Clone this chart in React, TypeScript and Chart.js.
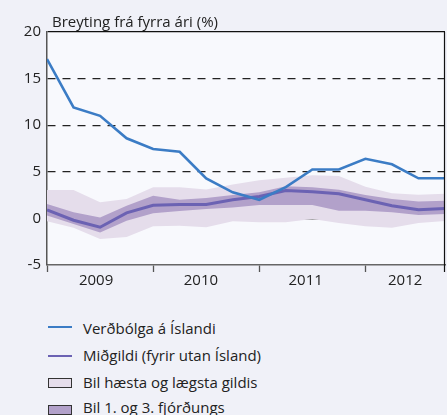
import React, { useEffect, useRef } from "react";
import { Chart, registerables } from "chart.js";

Chart.register(...registerables);

// Quarterly observations, 2009 Q1 .. 2012 Q4
const quarters = [
  "2009Q1", "2009Q2", "2009Q3", "2009Q4",
  "2010Q1", "2010Q2", "2010Q3", "2010Q4",
  "2011Q1", "2011Q2", "2011Q3", "2011Q4",
  "2012Q1", "2012Q2", "2012Q3", "2012Q4",
];
const iceland = [17.1, 11.9, 11.0, 8.6, 7.45, 7.15, 4.3, 2.8, 2.0, 3.35, 5.25, 5.25, 6.4, 5.8, 4.3, 4.3];
const median = [0.9, -0.2, -0.95, 0.6, 1.4, 1.5, 1.5, 2.0, 2.35, 3.0, 2.87, 2.65, 2.0, 1.36, 0.92, 1.06];
const q3 = [1.55, 0.65, 0.1, 1.36, 2.44, 2.0, 2.2, 2.5, 2.8, 3.44, 3.33, 3.08, 2.5, 2.08, 1.8, 1.9];
const q1 = [0.3, -0.6, -1.5, -0.25, 0.54, 0.8, 1.0, 1.18, 1.44, 1.44, 1.44, 0.83, 0.83, 0.65, 0.36, 0.47];
const maxVals = [3.05, 3.05, 1.72, 2.08, 3.33, 3.35, 3.1, 3.65, 4.1, 4.35, 4.62, 4.55, 3.4, 2.7, 2.55, 2.65];
const minVals = [-0.3, -1.0, -2.2, -2.0, -0.85, -0.8, -0.96, -0.3, -0.4, -0.4, -0.07, -0.5, -0.85, -1.0, -0.5, -0.28];

const yearLabels = ["2009", "2010", "2011", "2012"];
const yearBoundaries = [0, 4, 8, 12, 15];
const yTicks = [-5, 0, 5, 10, 15, 20];

const titleText = "Breyting frá fyrra ári (%)";
const legendLabels = [
  "Verðbólga á Íslandi",
  "Miðgildi (fyrir utan Ísland)",
  "Bil hæsta og lægsta gildis",
  "Bil 1. og 3. fjórðungs",
];

// layout / style
const yearLabelPos = [1.85, 5.8, 9.75, 13.5];
const FONT = '"Open Sans", "DejaVu Sans", sans-serif';
const C_BG = "#f0f1f8";
const C_PLOT = "#f8f9fd";
const C_BLUE = "#3b7cc5";
const C_MED = "#6b62b3";
const C_INNER = "#b2a1ca";
const C_OUTER = "#e5ddeb";

const pts = (arr: number[]) => arr.map((v, i) => ({ x: i, y: v }));

export default function App() {
  const ref = useRef<HTMLCanvasElement | null>(null);

  useEffect(() => {
    if (!ref.current) return;
    const plotBg = {
      id: "plotBg",
      beforeDraw(chart: any) {
        const { ctx, chartArea } = chart;
        ctx.save();
        ctx.fillStyle = C_PLOT;
        ctx.fillRect(chartArea.left, chartArea.top, chartArea.right - chartArea.left, chartArea.bottom - chartArea.top);
        ctx.restore();
      },
      afterDraw(chart: any) {
        const { ctx, chartArea } = chart;
        ctx.save();
        ctx.font = `15px ${FONT}`;
        ctx.fillStyle = "#222";
        ctx.textBaseline = "alphabetic";
        ctx.textAlign = "left";
        ctx.fillText(titleText, chartArea.left + 5, chartArea.top - 5.5);
        // right frame edge
        ctx.strokeStyle = "#111";
        ctx.lineWidth = 1.2;
        ctx.beginPath();
        ctx.moveTo(chartArea.right - 0.5, chartArea.top);
        ctx.lineTo(chartArea.right - 0.5, chartArea.bottom + 7);
        ctx.stroke();
        ctx.restore();
      },
    };

    const chart = new Chart(ref.current, {
      type: "line",
      data: {
        labels: quarters,
        datasets: [
          { label: legendLabels[0], data: pts(iceland), borderColor: C_BLUE, borderWidth: 2.6, pointRadius: 0, fill: false, tension: 0 },
          { label: legendLabels[1], data: pts(median), borderColor: C_MED, borderWidth: 3, pointRadius: 0, fill: false, tension: 0 },
          { label: "q3", data: pts(q3), borderColor: "transparent", borderWidth: 0, pointRadius: 0, backgroundColor: C_INNER, fill: "+1", tension: 0 },
          { label: "q1", data: pts(q1), borderColor: "transparent", borderWidth: 0, pointRadius: 0, fill: false, tension: 0 },
          { label: "max", data: pts(maxVals), borderColor: "transparent", borderWidth: 0, pointRadius: 0, backgroundColor: C_OUTER, fill: "+1", tension: 0 },
          { label: "min", data: pts(minVals), borderColor: "transparent", borderWidth: 0, pointRadius: 0, fill: false, tension: 0 },
        ],
      },
      options: {
        animation: false,
        responsive: false,
        devicePixelRatio: 1,
        layout: { padding: { top: 32, right: 2, left: 0, bottom: 0 } },
        plugins: { legend: { display: false }, tooltip: { enabled: false }, title: { display: false } },
        scales: {
          x: {
            type: "linear",
            min: 0,
            max: 15,
            afterFit: (s: any) => { s.height = 25; },
            afterBuildTicks: (s: any) => {
              const t: any[] = [];
              yearBoundaries.forEach((v) => t.push({ value: v }));
              yearLabelPos.forEach((v) => t.push({ value: v }));
              t.sort((a, b) => a.value - b.value);
              s.ticks = t;
            },
            ticks: {
              autoSkip: false,
              maxRotation: 0,
              padding: 0,
              color: "#222",
              font: { family: FONT, size: 15 },
              callback: (v: any) => {
                const idx = yearLabelPos.indexOf(Number(v));
                return idx >= 0 ? yearLabels[idx] : "";
              },
            },
            grid: {
              drawOnChartArea: false,
              drawTicks: true,
              tickLength: 7,
              tickColor: (ctx: any) => (ctx.tick && yearBoundaries.includes(ctx.tick.value) && ctx.tick.value !== 15 ? "#555" : "transparent"),
              tickWidth: 1.3,
            },
            border: { display: true, color: "#666", width: 1.5 },
          },
          y: {
            min: -5,
            max: 20,
            z: 1,
            afterFit: (s: any) => { s.width = 47; },
            afterBuildTicks: (s: any) => { s.ticks = yTicks.map((v) => ({ value: v })); },
            ticks: {
              padding: 6,
              color: "#222",
              font: { family: FONT, size: 15 },
            },
            grid: {
              drawTicks: false,
              color: (ctx: any) => {
                const v = ctx.tick ? ctx.tick.value : null;
                if (v === 0) return "#555";
                if (v === 20) return "#111";
                if (v === -5) return "transparent";
                return "#222";
              },
              lineWidth: (ctx: any) => (ctx.tick && ctx.tick.value === 0 ? 1.6 : 1.2),
            },
            border: {
              display: true,
              color: "#555",
              width: 1.5,
              dash: (ctx: any) => (ctx.tick && [5, 10, 15].includes(ctx.tick.value) ? [8, 7] : []),
            },
          },
        },
      },
      plugins: [plotBg],
    } as any);
    return () => chart.destroy();
  }, []);

  const textCenters = [328, 355, 381.5, 406.5];
  const markerTops = [325.5, 354.5, 378, 405];
  return (
    <div style={{ position: "absolute", left: 0, top: 0, width: 447, height: 415, background: C_BG, overflow: "hidden", fontFamily: FONT }}>
      <canvas ref={ref} width={447} height={290} style={{ position: "absolute", left: 0, top: 0, width: 447, height: 290 }} />
      {legendLabels.map((lab, i) => (
        <React.Fragment key={lab}>
          {i < 2 ? (
            <div style={{ position: "absolute", left: 48, top: markerTops[i], width: 24, height: 2.5, background: i === 0 ? C_BLUE : C_MED }} />
          ) : (
            <div style={{ position: "absolute", left: 48, top: markerTops[i], width: 22, height: 8, border: "1px solid #333", background: i === 2 ? C_OUTER : C_INNER }} />
          )}
          <div style={{ position: "absolute", left: 83, top: textCenters[i] - 11, height: 22, lineHeight: "22px", fontSize: 15, color: "#222", whiteSpace: "nowrap" }}>{lab}</div>
        </React.Fragment>
      ))}
    </div>
  );
}
